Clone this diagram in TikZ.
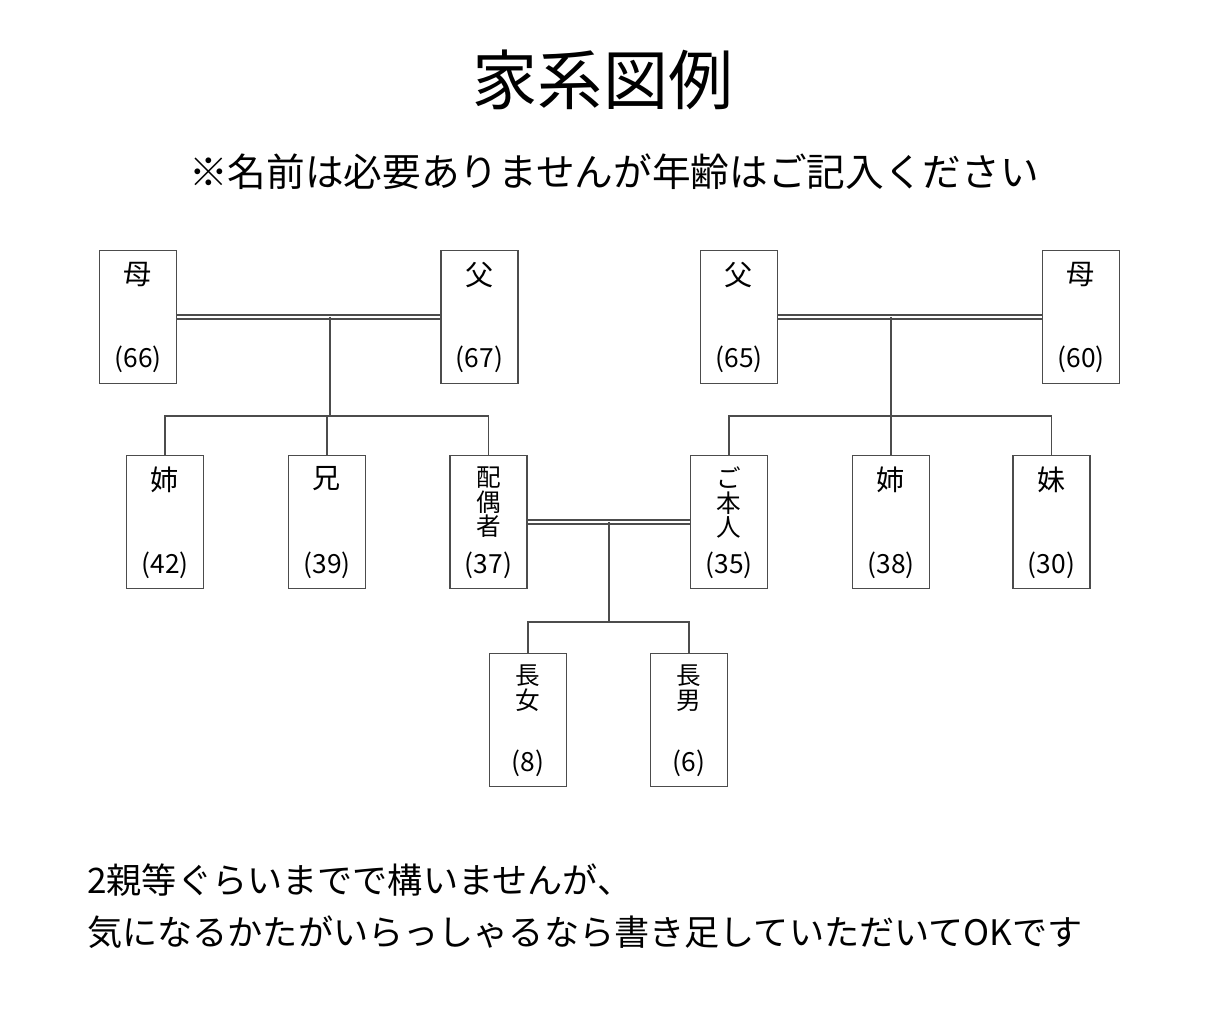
\documentclass[tikz,border=0pt]{standalone}
\usepackage{fontspec}
\setmainfont{Noto Sans CJK JP}
\usetikzlibrary{positioning}
\tikzset{
  box/.style={draw=black!70,line width=1pt,minimum width=1.54cm,minimum height=2.66cm,inner sep=0pt},
  tag/.style={font=\fontsize{16}{18}\selectfont},
  stack/.style={font=\fontsize{14}{15}\selectfont},
  age/.style={font=\fontsize{15}{17}\selectfont},
  wed/.style={draw=black!70,double,double distance=1.6pt,line width=0.8pt},
  kin/.style={draw=black!70,line width=1pt}
}
\newcommand{\member}[6][tag]{%
  \node[box] (#2) at (#3,#4) {};
  \node[#1,align=center,anchor=north] (#2t) at ([yshift=\ifx#1tag -0.3cm\else -0.12cm\fi]#2.north) {#5};
  \node[age,anchor=south] (#2a) at ([yshift=0.1cm]#2.south) {#6};
}
\begin{document}
\begin{tikzpicture}
\useasboundingbox (0,0) rectangle (24.4,20.32);
\node[font=\fontsize{37}{40}\selectfont] (title) at (12.06,18.72) {家系図例};
\node[font=\fontsize{22}{25}\selectfont] (sub) at (12.28,16.88) {※名前は必要ありませんが年齢はご記入ください};

% grandparents
\member{gmL}{2.76}{13.98}{母}{(66)}
\member{gfL}{9.59}{13.98}{父}{(67)}
\member{gfR}{14.78}{13.98}{父}{(65)}
\member{gmR}{21.62}{13.98}{母}{(60)}

% siblings
\member{sisL}{3.30}{9.88}{姉}{(42)}
\member{bro}{6.54}{9.88}{兄}{(39)}
\member[stack]{spouse}{9.77}{9.88}{配\\[-1pt]偶\\[-1pt]者}{(37)}
\member[stack]{self}{14.58}{9.88}{ご\\[-1pt]本\\[-1pt]人}{(35)}
\member{sisR}{17.82}{9.88}{姉}{(38)}
\member{sisY}{21.03}{9.88}{妹}{(30)}

% children
\member[stack]{dau}{10.56}{5.92}{長\\[-1pt]女}{(8)}
\member[stack]{son}{13.78}{5.92}{長\\[-1pt]男}{(6)}

% marriages
\draw[wed] (gmL.east) -- (gfL.west);
\draw[wed] (gfR.east) -- (gmR.west);
\draw[wed] (spouse.east) -- (self.west);

% descent
\coordinate (jL) at (6.6,12.0);
\draw[kin] (gmL.east -| jL) -- (jL);
\draw[kin] (sisL.north) |- (jL) -| (spouse.north);
\draw[kin] (bro.north) -- (bro.north |- jL);
\coordinate (jR) at (17.82,12.0);
\draw[kin] (gfR.east -| jR) -- (jR);
\draw[kin] (self.north) |- (jR) -| (sisY.north);
\draw[kin] (sisR.north) -- (jR);
\coordinate (jC) at (12.18,7.88);
\draw[kin] (spouse.east -| jC) -- (jC);
\draw[kin] (dau.north) |- (jC) -| (son.north);

\node[font=\fontsize{20}{23}\selectfont,anchor=west] (note1) at (1.62,2.72) {2親等ぐらいまでで構いませんが、};
\node[font=\fontsize{20}{23}\selectfont,anchor=west] (note2) at (1.62,1.68) {気になるかたがいらっしゃるなら書き足していただいてOKです};
\end{tikzpicture}
\end{document}
